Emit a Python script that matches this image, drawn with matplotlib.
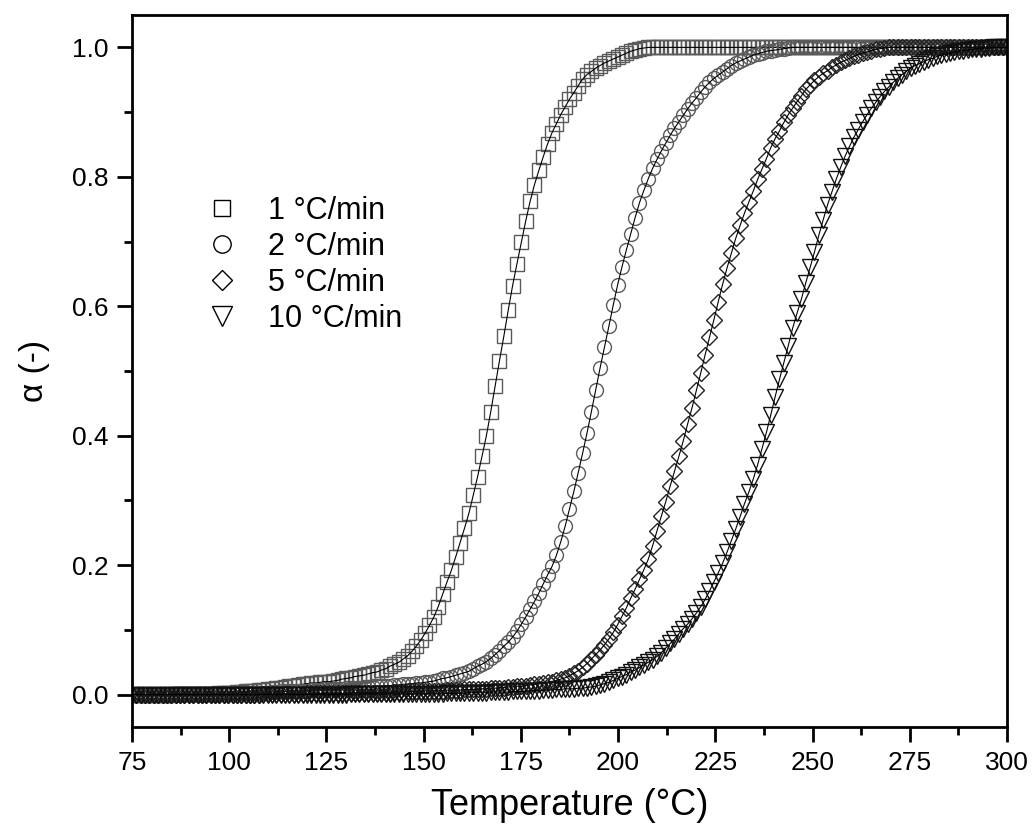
import numpy as np
import matplotlib
matplotlib.use("Agg")
import matplotlib.pyplot as plt
from matplotlib.ticker import MultipleLocator, FormatStrFormatter
from matplotlib.lines import Line2D

plt.rcParams['font.family'] = ['Liberation Sans', 'DejaVu Sans']

# temperature grid of the measurements (deg C)
temp = np.linspace(75, 300, 201)

# conversion alpha for each heating rate
alpha_1 = ([0.0] * 10 + [0.001] * 10 +
           [0.002, 0.002, 0.003, 0.003, 0.004, 0.004, 0.005, 0.005, 0.006, 0.007,
            0.007, 0.008, 0.009, 0.010, 0.011, 0.012, 0.013, 0.014, 0.015, 0.016,
            0.017, 0.018, 0.018, 0.019, 0.020, 0.020, 0.021, 0.022, 0.024, 0.025,
            0.026, 0.028, 0.029, 0.030, 0.032, 0.034, 0.035, 0.038, 0.040, 0.044,
            0.047, 0.050, 0.055, 0.060, 0.067, 0.075, 0.084, 0.095, 0.107, 0.120,
            0.136, 0.155, 0.174, 0.192, 0.213, 0.235, 0.257, 0.280, 0.308, 0.337,
            0.368, 0.400, 0.437, 0.477, 0.516, 0.554, 0.594, 0.632, 0.666, 0.699,
            0.732, 0.762, 0.788, 0.810, 0.831, 0.851, 0.868, 0.882, 0.896, 0.908,
            0.920, 0.930, 0.941, 0.951, 0.958, 0.963, 0.968, 0.972, 0.976, 0.979,
            0.982, 0.985, 0.988, 0.991, 0.994, 0.996, 0.998, 0.999] +
           [1.0] * 83)

alpha_2 = ([0.0] * 10 + [0.001] * 10 + [0.002] * 10 +
           [0.003, 0.003, 0.004, 0.004, 0.005, 0.005, 0.005, 0.006, 0.006, 0.006,
            0.006, 0.007, 0.007, 0.007, 0.008, 0.008, 0.008, 0.009, 0.009, 0.010,
            0.010, 0.011, 0.011, 0.012, 0.012, 0.012, 0.013, 0.013, 0.014, 0.014,
            0.015, 0.015, 0.016, 0.016, 0.017, 0.018, 0.018, 0.019, 0.020, 0.021,
            0.023, 0.025, 0.026, 0.028, 0.030, 0.032, 0.034, 0.036, 0.040, 0.044,
            0.047, 0.051, 0.056, 0.062, 0.068, 0.075, 0.081, 0.089, 0.098, 0.109,
            0.120, 0.132, 0.144, 0.157, 0.171, 0.185, 0.198, 0.215, 0.236, 0.260,
            0.287, 0.314, 0.343, 0.373, 0.404, 0.437, 0.471, 0.505, 0.537, 0.569,
            0.602, 0.633, 0.661, 0.687, 0.712, 0.737, 0.760, 0.779, 0.797, 0.813,
            0.827, 0.840, 0.852, 0.864, 0.875, 0.885, 0.895, 0.905, 0.914, 0.922,
            0.931, 0.939, 0.946, 0.952, 0.957, 0.962, 0.967, 0.972, 0.976, 0.979,
            0.982, 0.985, 0.988, 0.990, 0.992, 0.994, 0.995, 0.996, 0.997, 0.998,
            0.999] +
           [1.0] * 50)

alpha_5 = ([0.0] * 30 + [0.001] * 10 + [0.002] * 10 + [0.003] * 10 +
           [0.004, 0.004, 0.004, 0.005, 0.005, 0.005, 0.005, 0.006, 0.006, 0.006,
            0.006, 0.006, 0.007, 0.007, 0.007, 0.007, 0.008, 0.008, 0.008, 0.009,
            0.009, 0.009, 0.010, 0.010, 0.011, 0.011, 0.012, 0.012, 0.013, 0.013,
            0.014, 0.015, 0.016, 0.017, 0.018, 0.019, 0.020, 0.022, 0.024, 0.026,
            0.029, 0.033, 0.037, 0.042, 0.048, 0.055, 0.062, 0.069, 0.077, 0.086,
            0.096, 0.108, 0.121, 0.134, 0.149, 0.163, 0.178, 0.193, 0.209, 0.230,
            0.253, 0.276, 0.298, 0.322, 0.345, 0.368, 0.392, 0.418, 0.443, 0.470,
            0.497, 0.525, 0.552, 0.579, 0.607, 0.634, 0.659, 0.682, 0.705, 0.725,
            0.744, 0.761, 0.778, 0.796, 0.812, 0.828, 0.845, 0.859, 0.871, 0.884,
            0.896, 0.906, 0.916, 0.925, 0.935, 0.942, 0.949, 0.955, 0.960, 0.964,
            0.969, 0.973, 0.977, 0.980, 0.983, 0.986, 0.989, 0.991, 0.993, 0.995,
            0.997, 0.998, 0.999] +
           [1.0] * 28)

alpha_10 = ([0.0] * 50 + [0.001] * 20 +
            [0.001, 0.001, 0.002, 0.002, 0.002, 0.002, 0.002, 0.003, 0.003, 0.003,
             0.003, 0.003, 0.004, 0.004, 0.004, 0.004, 0.004, 0.005, 0.005, 0.005,
             0.005, 0.006, 0.006, 0.006, 0.007, 0.007, 0.007, 0.008, 0.008, 0.009,
             0.009, 0.009, 0.010, 0.010, 0.011, 0.012, 0.013, 0.015, 0.017, 0.019,
             0.022, 0.025, 0.028, 0.031, 0.035, 0.038, 0.042, 0.046, 0.050, 0.054,
             0.059, 0.065, 0.072, 0.079, 0.086, 0.094, 0.102, 0.109, 0.117, 0.126,
             0.136, 0.147, 0.160, 0.174, 0.188, 0.203, 0.220, 0.238, 0.256, 0.275,
             0.295, 0.313, 0.333, 0.355, 0.380, 0.405, 0.432, 0.460, 0.487, 0.513,
             0.539, 0.566, 0.589, 0.611, 0.636, 0.660, 0.684, 0.710, 0.734, 0.757,
             0.777, 0.797, 0.815, 0.832, 0.847, 0.861, 0.873, 0.885, 0.896, 0.906,
             0.915, 0.924, 0.932, 0.939, 0.946, 0.952, 0.958, 0.963, 0.968, 0.972,
             0.975, 0.978, 0.981, 0.983, 0.986, 0.988, 0.990, 0.991, 0.993, 0.994,
             0.995, 0.996, 0.997, 0.998, 0.998, 0.999, 0.999, 1.0, 1.0, 1.0, 1.0])

labels = ['1 °C/min', '2 °C/min', '5 °C/min', '10 °C/min']
markers = ['s', 'o', 'D', 'v']
sizes = [9.5, 10, 8.5, 11]
edge = ['#5a5a5a', '#5a5a5a', '#222222', '#111111']
series = [alpha_1, alpha_2, alpha_5, alpha_10]

fig = plt.figure(figsize=(10.36, 8.39), dpi=100)
ax = fig.add_axes([0.1274, 0.1335, 0.8446, 0.8486])

for a, m, s, c in zip(series, markers, sizes, edge):
    ax.plot(temp, a, linestyle='none', marker=m, ms=s, mfc='none', mec=c, mew=1.0)
    ax.plot(temp, a, color='black', lw=0.8)

ax.set_xlim(75, 300)
ax.set_ylim(-0.05, 1.05)
ax.xaxis.set_major_locator(MultipleLocator(25))
ax.xaxis.set_minor_locator(MultipleLocator(12.5))
ax.yaxis.set_major_locator(MultipleLocator(0.2))
ax.yaxis.set_minor_locator(MultipleLocator(0.1))
ax.yaxis.set_major_formatter(FormatStrFormatter('%.1f'))
ax.tick_params(which='major', direction='out', length=11, width=2, labelsize=19, pad=6)
ax.tick_params(which='minor', direction='out', length=6, width=2)
ax.tick_params(top=False, right=False, which='both')
for sp in ax.spines.values():
    sp.set_linewidth(2)

ax.set_xlabel('Temperature (°C)', fontsize=26, labelpad=10)
ax.set_ylabel('α (-)', fontsize=24, labelpad=16)

handles = [Line2D([], [], linestyle='none', marker=m, ms=s * 1.25, mfc='none', mec='black', mew=1.0)
           for m, s in zip(markers, sizes)]
ax.legend(handles, labels, loc='upper left', bbox_to_anchor=(0.045, 0.785), frameon=False,
          fontsize=22, handletextpad=0.75, labelspacing=0.2, handlelength=1.5)

fig.savefig('out.png', dpi=100)
